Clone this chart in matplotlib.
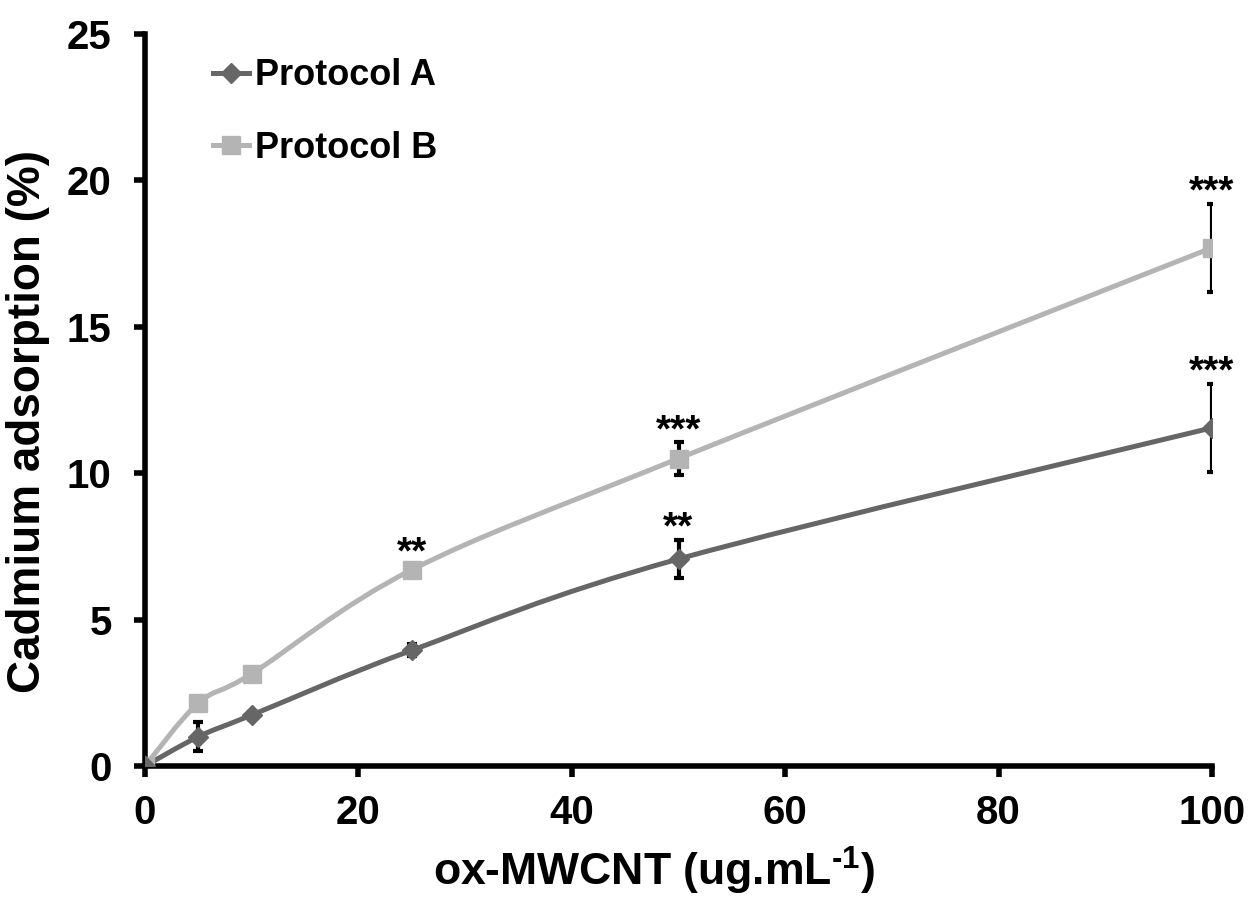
import numpy as np
import matplotlib
matplotlib.use("Agg")
import matplotlib.pyplot as plt
from matplotlib.path import Path
from matplotlib.patches import PathPatch
from matplotlib.lines import Line2D

plt.rcParams['font.family'] = ['Liberation Sans', 'DejaVu Sans']
plt.rcParams['font.weight'] = 'bold'
plt.rcParams['mathtext.fontset'] = 'custom'
plt.rcParams['mathtext.rm'] = 'Liberation Sans:bold'
plt.rcParams['mathtext.bf'] = 'Liberation Sans:bold'

conc = [0, 5, 10, 25, 50, 100]
protocol_a = [0, 1.0, 1.74, 3.95, 7.07, 11.55]
protocol_a_err = [0, 0.5, 0.12, 0.2, 0.65, 1.5]
protocol_b = [0, 2.15, 3.15, 6.7, 10.5, 17.7]
protocol_b_err = [0, 0.12, 0.12, 0.15, 0.55, 1.5]
stars_a = ['', '', '', '', '**', '***']
stars_b = ['', '', '', '**', '***', '***']

x_ticks = [0, 20, 40, 60, 80, 100]
y_ticks = [0, 5, 10, 15, 20, 25]

col_a = '#666666'
col_b = '#b4b4b4'

W, H = 1251, 909
fig = plt.figure(figsize=(W / 100, H / 100), dpi=100)
ax = fig.add_axes([145 / W, 1 - 766 / H, (1212 - 145) / W, (766 - 34) / H])
ax.set_xlim(0, 100)
ax.set_ylim(0, 25)


def smooth_path(xs, ys, xr, yr, tension=1 / 6):
    # Catmull-Rom style smoothing (as in Excel smoothed lines) in normalized space
    xs = np.asarray(xs, float) / xr
    ys = np.asarray(ys, float) / yr
    pts = np.column_stack([xs, ys])
    n = len(pts)
    verts = [pts[0]]
    codes = [Path.MOVETO]
    for i in range(n - 1):
        p0 = pts[i - 1] if i > 0 else pts[i]
        p1 = pts[i]
        p2 = pts[i + 1]
        p3 = pts[i + 2] if i + 2 < n else pts[i + 1]
        c1 = p1 + (p2 - p0) * tension
        c2 = p2 - (p3 - p1) * tension
        verts += [c1, c2, p2]
        codes += [Path.CURVE4] * 3
    verts = np.array(verts)
    verts[:, 0] *= xr
    verts[:, 1] *= yr
    return Path(verts, codes)


for ys, col in [(protocol_a, col_a), (protocol_b, col_b)]:
    p = smooth_path(conc, ys, 100, 25)
    ax.add_patch(PathPatch(p, facecolor='none', edgecolor=col, lw=3.6, zorder=2,
                           capstyle='round'))

ax.errorbar(conc, protocol_b, yerr=protocol_b_err, fmt='none', ecolor='black',
            elinewidth=3, capsize=3.8, capthick=3, zorder=3)
ax.errorbar(conc, protocol_a, yerr=protocol_a_err, fmt='none', ecolor='black',
            elinewidth=3, capsize=3.8, capthick=3, zorder=3)
ax.plot(conc, protocol_b, linestyle='none', marker='s', markersize=13,
        color=col_b, markeredgecolor=col_b, zorder=4)
ax.plot(conc, protocol_a, linestyle='none', marker='D', markersize=10,
        color=col_a, markeredgecolor=col_a, zorder=5)

for xs, ys, es, st in [(conc, protocol_a, protocol_a_err, stars_a),
                       (conc, protocol_b, protocol_b_err, stars_b)]:
    for xv, yv, ev, s in zip(xs, ys, es, st):
        if s:
            ax.text(xv, yv + ev + 0.05, s, ha='center', va='baseline',
                    fontsize=28, fontweight='bold', zorder=6)

for sp in ['top', 'right']:
    ax.spines[sp].set_visible(False)
for sp in ['left', 'bottom']:
    ax.spines[sp].set_linewidth(4)
    ax.spines[sp].set_zorder(1)

ax.set_xticks(x_ticks)
ax.set_yticks(y_ticks)
ax.tick_params(direction='out', length=8, width=4, labelsize=29)
ax.tick_params(axis='x', pad=12)
ax.tick_params(axis='y', pad=16)
for lab in ax.get_xticklabels() + ax.get_yticklabels():
    lab.set_fontweight('bold')

ax.set_xlabel(r'ox-MWCNT (ug.mL$^{\text{-1}}$)', fontsize=32, fontweight='bold')
ax.xaxis.set_label_coords(0.477, -0.143)
ax.xaxis.label.set_verticalalignment('center')
ax.set_ylabel('Cadmium adsorption (%)', fontsize=33, fontweight='bold')
ax.yaxis.set_label_coords(-0.11, 0.47)
ax.yaxis.label.set_verticalalignment('center')

handles = [Line2D([], [], color=col_a, lw=3.6, marker='D', markersize=10),
           Line2D([], [], color=col_b, lw=3.6, marker='s', markersize=13)]
leg = ax.legend(handles, ['Protocol A', 'Protocol B'], loc='upper left',
                bbox_to_anchor=(0.064, 0.967), frameon=False, handlelength=1.0,
                handletextpad=0.15, labelspacing=1.05, borderpad=0,
                borderaxespad=0, prop={'size': 26, 'weight': 'bold'})

fig.savefig('out.png', dpi=100, facecolor='white')
